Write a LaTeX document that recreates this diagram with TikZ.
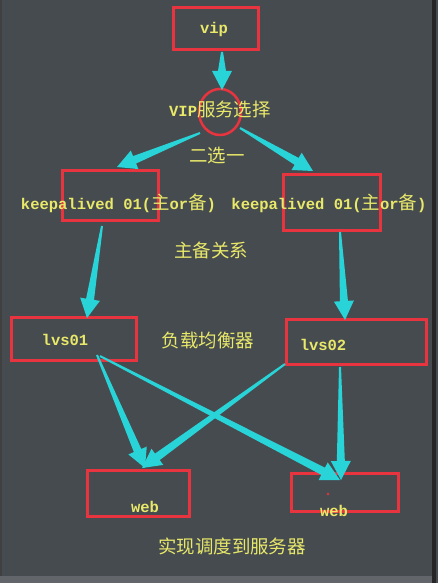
\documentclass[tikz,border=0pt]{standalone}
\usepackage{fontspec}
\setmainfont{Liberation Mono}
\newfontfamily\cjkfam[Scale=1.19]{Noto Sans CJK SC}
\newcommand\cjk{\mdseries\cjkfam}
\usetikzlibrary{calc,shapes.geometric}
\definecolor{bgcol}{RGB}{70,75,80}
\definecolor{boxred}{RGB}{232,52,62}
\definecolor{arrowcyan}{RGB}{40,212,216}
\definecolor{txtyel}{RGB}{232,232,105}
\newcommand\taparrow[2]{%
  \coordinate (hh) at ($(#2)!19pt!(#1)$);
  \fill[arrowcyan] ($(#1)!1pt!90:(#2)$) -- ($(hh)!4pt!-90:(#1)$) -- ($(hh)!10pt!-90:(#1)$) -- (#2)
     -- ($(hh)!10pt!90:(#1)$) -- ($(hh)!4pt!90:(#1)$) -- ($(#1)!1pt!-90:(#2)$) -- cycle;}
\begin{document}
\begin{tikzpicture}[x=1pt,y=-1pt,
  redbox/.style={draw=boxred,line width=3pt,inner sep=0pt},
  lbl/.style={text=txtyel,inner sep=0pt,font=\fontsize{15.5}{18}\selectfont\bfseries},
  clbl/.style={text=txtyel,inner sep=0pt,font=\fontsize{15.5}{18}\selectfont\cjk}]
\useasboundingbox (0,0) rectangle (438,583);
\fill[bgcol] (0,0) rectangle (438,583);
\fill[black!75] (0,0) rectangle (2,583);
\fill[black!85] (432,0) rectangle (435.5,583);
\fill[bgcol!85!white] (0,576) rectangle (432,583);
% boxes
\node[redbox,minimum width=85pt,minimum height=42pt] (vipbox) at (215.5,29) {};
\node[draw=boxred,line width=2.5pt,ellipse,minimum width=42pt,minimum height=46pt,inner sep=0pt] (sel) at (220,112) {};
\node[redbox,minimum width=96pt,minimum height=50pt] (kaL) at (110,195) {};
\node[redbox,minimum width=97pt,minimum height=56pt] (kaR) at (331.5,202) {};
\node[redbox,minimum width=125pt,minimum height=43pt] (lvsA) at (73.5,338.5) {};
\node[redbox,minimum width=140pt,minimum height=45pt] (lvsB) at (356,341.5) {};
\node[redbox,minimum width=102pt,minimum height=46pt] (webL) at (138,493) {};
\node[redbox,minimum width=107pt,minimum height=38pt] (webR) at (344.5,492) {};
\fill[boxred] (328,494) circle (1.3);
% texts
\node[lbl] (tvip) at (214,29) {vip};
\node[lbl] (tsel) at (220,110) {VIP{\cjk 服务选择}};
\node[clbl] (ttwo) at (217,156) {二选一};
\node[lbl] (tkaL) at (118.5,203) {keepalived 01({\cjk 主}or{\cjk 备})};
\node[lbl] (tkaR) at (329,203) {keepalived 01({\cjk 主}or{\cjk 备})};
\node[clbl] (trel) at (211,250) {主备关系};
\node[lbl] (tlvsA) at (65,340) {lvs01};
\node[clbl] (tlb) at (208,340) {负载均衡器};
\node[lbl] (tlvsB) at (323,345) {lvs02};
\node[lbl] (twebL) at (145,507) {web};
\node[lbl] (twebR) at (334,511) {web};
\node[clbl] (tsched) at (232,546) {实现调度到服务器};
% connector end points
\coordinate (a1) at (222,52);   \coordinate (b1) at (222,90);
\coordinate (a2) at (200,133);  \coordinate (b2) at (117,167);
\coordinate (a3) at (240,128);  \coordinate (b3) at (313,171);
\coordinate (a4) at (102,226);  \coordinate (b4) at (87,318);
\coordinate (a5) at (340,232);  \coordinate (b5) at (345,320);
\coordinate (a6) at (97,355);   \coordinate (b6) at (145,468);
\coordinate (a7) at (100,356);  \coordinate (b7) at (340,480);
\coordinate (a8) at (285,364);  \coordinate (b8) at (142,468);
\coordinate (a9) at (340,367);  \coordinate (b9) at (341,480);
\taparrow{a1}{b1}
\taparrow{a2}{b2}
\taparrow{a3}{b3}
\taparrow{a4}{b4}
\taparrow{a5}{b5}
\taparrow{a6}{b6}
\taparrow{a7}{b7}
\taparrow{a8}{b8}
\taparrow{a9}{b9}
\end{tikzpicture}
\end{document}
